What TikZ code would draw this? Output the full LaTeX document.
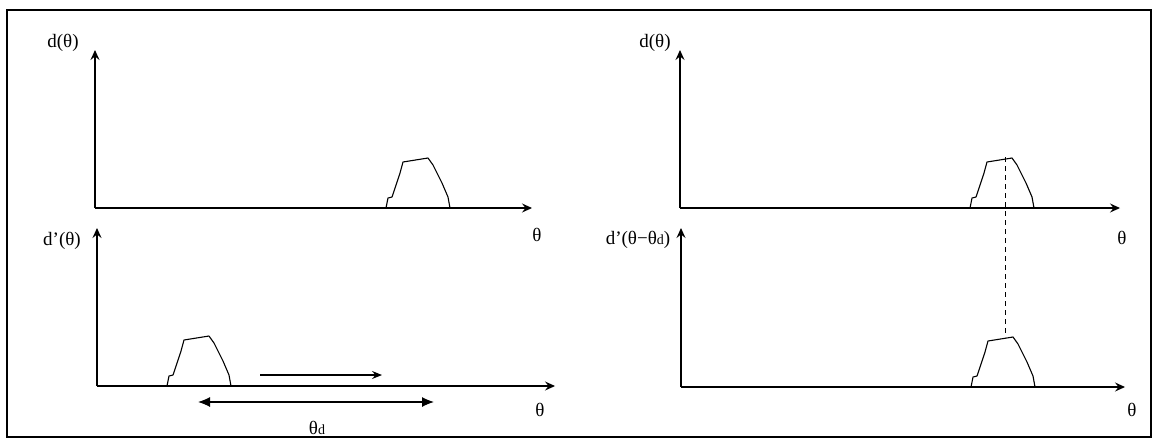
\documentclass[tikz,border=0pt]{standalone}
\usepackage{fontspec}
\setmainfont{Liberation Serif}
\usetikzlibrary{arrows.meta}
\begin{document}
\begin{tikzpicture}[x=1pt,y=-1pt,
  axis/.style={line width=1.1pt,-{Stealth[length=10pt,width=9pt,inset=3.5pt]}},
  motion/.style={line width=1.1pt,-{Stealth[length=10pt,width=8pt,inset=3.5pt]}},
  span/.style={line width=1.1pt,{Latex[length=12pt,width=10pt]}-{Latex[length=12pt,width=10pt]}},
  lbl/.style={font=\fontsize{19}{22}\selectfont, inner sep=0pt},
  guide/.style={line width=1pt, dash pattern=on 5pt off 4pt},
  pulseline/.style={line width=1.1pt, line join=round},
  pics/pulse/.style={code={\draw[pulseline] (0,0) -- (2,-10) -- (6,-11) -- (14,-35) -- (17,-46) -- (42,-50) -- (47,-43) -- (56,-25) -- (62,-11) -- (64,0);}}
]
\useasboundingbox (0,0) rectangle (1154,440);
% frame
\draw[line width=1.4pt] (7,10) rectangle (1151,437);
\draw[line width=2.6pt] (7,10) -- (7,437);

% top-left axes
\coordinate (o1) at (95,208);
\coordinate (y1) at (95,50);
\coordinate (x1) at (532,208);
\draw[axis] (o1) -- (y1);
\draw[axis] (o1) -- (x1);
\pic at (386,208) {pulse};
\node[lbl] (l1) at (63,43) {d(θ)};
\node[lbl] (t1) at (537,235) {θ};

% bottom-left axes
\coordinate (o2) at (97,386);
\coordinate (y2) at (97,228);
\coordinate (x2) at (555,386);
\draw[axis] (o2) -- (y2);
\draw[axis] (o2) -- (x2);
\pic at (167,386) {pulse};
\node[lbl] (l2) at (62,241) {d'(θ)};
\node[lbl] (t2) at (540,410) {θ};
\coordinate (m1) at (260,375);
\coordinate (m2) at (382,375);
\draw[motion] (m1) -- (m2);
\coordinate (s1) at (198,402);
\coordinate (s2) at (434,402);
\draw[span] (s1) -- (s2);
\node[lbl] (td) at (317,428) {θ{\fontsize{14}{16}\selectfont d}};

% top-right axes
\coordinate (o3) at (680,208);
\coordinate (y3) at (680,50);
\coordinate (x3) at (1120,208);
\draw[axis] (o3) -- (y3);
\draw[axis] (o3) -- (x3);
\pic at (970,208) {pulse};
\node[lbl] (l3) at (655,43) {d(θ)};
\node[lbl] (t3) at (1122,238) {θ};

% bottom-right axes
\coordinate (o4) at (681,387);
\coordinate (y4) at (681,228);
\coordinate (x4) at (1125,387);
\draw[axis] (o4) -- (y4);
\draw[axis] (o4) -- (x4);
\pic at (971,387) {pulse};
\node[lbl] (l4) at (638,240) {d'(θ−θ{\fontsize{14}{16}\selectfont d})};
\node[lbl] (t4) at (1132,410) {θ};

% dashed guide
\coordinate (g1) at (1005,157);
\coordinate (g2) at (1005,337);
\draw[guide] (g1) -- (g2);
\end{tikzpicture}
\end{document}
